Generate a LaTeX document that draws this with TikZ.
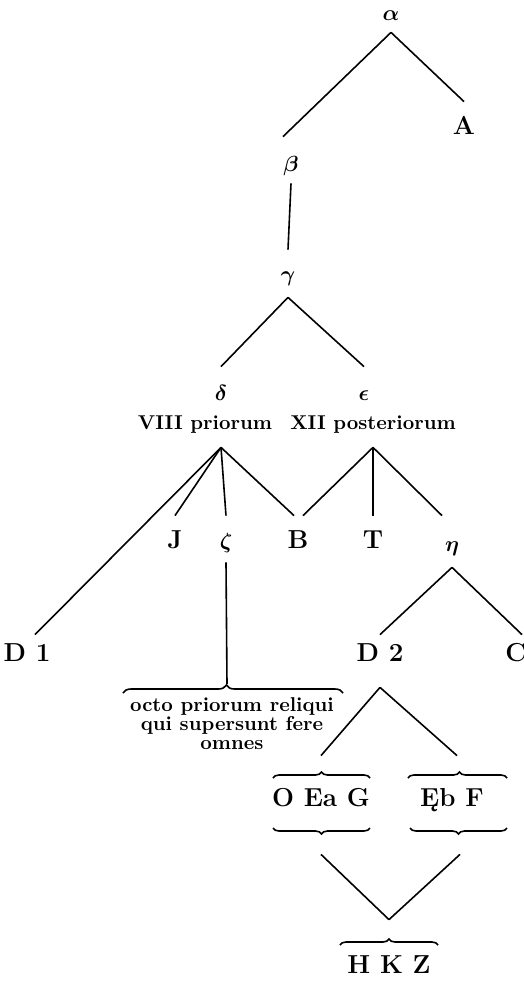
\documentclass[tikz,border=0pt]{standalone}
\usepackage{tikz}
\usetikzlibrary{positioning}
\usetikzlibrary{decorations.pathreplacing}
\tikzset{
    greek/.style={
      inner sep=0pt,
           anchor=base,
           font=\boldmath\fontsize{11}{13}\selectfont,
           text height=16pt,
           text depth=7pt,
           },
}
\tikzset{
    siglum/.style={
      inner sep=0pt,
           anchor=base,
           font=\bfseries\fontsize{13}{15}\selectfont,
           text height=16pt,
           text depth=7pt,
           },
}
\tikzset{
    heading/.style={
      siglum,
           font=\bfseries\fontsize{10}{12}\selectfont,
           },
}
\tikzset{
    note/.style={
      inner sep=0pt,
           anchor=north,
           font=\bfseries\fontsize{10}{9.5}\selectfont,
           align=center,
           },
}
\tikzset{
    group/.style={
      decorate,
           decoration={brace,amplitude=3pt},
           line width=0.8pt,
           },
}
\tikzset{
    branch/.style={
      line width=0.8pt,
           },
}
\begin{document}
\begin{tikzpicture}[x=0.5pt,y=-0.5pt]
\useasboundingbox (0,0) rectangle (524,982);

\node[greek,text depth=6pt](alp) at (391,20){$\alpha$};
\node[siglum](sga) at (464,134){A};
\node[greek,text height=17pt,text depth=6pt](bet) at (291,171){$\beta$};
\node[greek,text height=15.5pt,text depth=8pt](gam) at (288,281){$\gamma$};

\path (alp.south) edge[branch](bet.north west);
\path (alp.south) edge[branch](sga.north);
\path (bet.south) edge[branch](gam.north);

\node[greek,text height=16.5pt](dlt) at (221,400){$\delta$};
\node[greek,text height=16.5pt](eps) at (364,400){$\epsilon$};
\node[heading,text depth=9pt](vpr) at (205,429){VIII priorum};
\node[heading,text depth=9pt](xpo) at (373,429){XII posteriorum};

\path (gam.south) edge[branch](dlt.north);
\path (gam.south) edge[branch](eps.north);

\coordinate (dap) at (vpr.south -| dlt);

\node[siglum](sgj) at (175,548){J};
\node[greek](zet) at (226,548){$\zeta$};
\node[siglum](sgb) at (298,548){B};
\node[siglum](sgt) at (373,548){T};
\node[greek,text height=17.5pt,text depth=8pt](eta) at (452,551){$\eta$};

\node[siglum,text height=13pt](dun) at (27,661){D 1};
\node[siglum,text height=13pt,text depth=13pt](ddu) at (380,661){D 2};
\node[siglum,text height=13pt](sgc) at (516,661){C};

\path (dap) edge[branch]([xshift=4pt]dun.north);
\path (dap) edge[branch](sgj.north);
\path (dap) edge[branch](zet.north);
\path (dap) edge[branch]([xshift=-2pt]sgb.north);

\path (xpo.south) edge[branch]([xshift=2.5pt]sgb.north);
\path (xpo.south) edge[branch](sgt.north);
\path (xpo.south) edge[branch]([xshift=-5pt]eta.north);

\path (eta.south) edge[branch](ddu.north);
\path (eta.south) edge[branch]([xshift=3pt]sgc.north);

% octo priorum
\draw[group,decoration={amplitude=4pt,aspect=0.47}] (123,693) -- (343,693);
\coordinate (ocp) at (227,684);
\node[note](oct) at (232,697){octo priorum reliqui\\qui supersunt fere\\omnes};

\path (zet.south) edge[branch](ocp);

\node[siglum,text height=25pt,text depth=24pt](oeg) at (321,806){O Ea G};
\node[siglum,text height=25pt,text depth=24pt](ebf) at (452,806){Ęb F};

\draw[group] (273,778) -- (370,778);
\draw[group] (370,828) -- (273,828);
\draw[group,decoration={aspect=0.52}] (408,778) -- (507,778);
\draw[group,decoration={aspect=0.5}] (507,828) -- (410,828);

\path (ddu.south) edge[branch](oeg.north);
\path (ddu.south) edge[branch]([xshift=2.5pt]ebf.north);

\node[siglum,text height=26.5pt](hkz) at (389,973){H K Z};

\draw[group] (340,945) -- (438,945);

\path (oeg.south) edge[branch](hkz.north);
\path ([xshift=4pt]ebf.south) edge[branch](hkz.north);

\end{tikzpicture}
\end{document}
